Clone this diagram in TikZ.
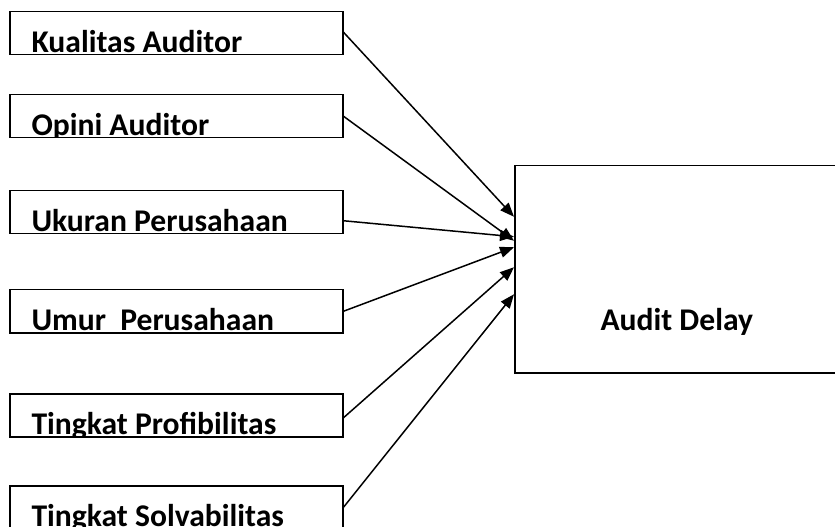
\documentclass[tikz,border=0pt]{standalone}
\usepackage{fontspec}
\setmainfont{Carlito}
\usetikzlibrary{arrows.meta}
\tikzset{
  box/.style={draw, line width=1.5bp, inner sep=0pt},
  boxtext/.style={draw=none, minimum width=0pt, minimum height=0pt,
    font=\fontsize{31.6bp}{37bp}\selectfont\bfseries, inner sep=0pt},
  varbox/.style={box, anchor=north west, minimum width=333bp, minimum height=43bp,
    path picture={\node[boxtext, anchor=base west] (t) at ([xshift=21bp,yshift=2.5bp]path picture bounding box.south west) {#1};}},
  link/.style={line width=1.5bp, -{Triangle[length=14bp,width=11bp]}}
}
\begin{document}
\begin{tikzpicture}[x=1bp, y=-1bp]
      \clip (0,0) rectangle (835,527);
      \node[varbox=Kualitas Auditor] (ka) at (9,11) {};
      \node[varbox=Opini Auditor] (oa) at (9,94) {};
      \node[varbox=Ukuran Perusahaan] (up) at (9,190) {};
      \node[varbox=Umur\ \ Perusahaan] (ump) at (9,289) {};
      \node[varbox=Tingkat Profibilitas] (tp) at (9,393) {};
      \node[varbox=Tingkat Solvabilitas] (ts) at (9,485) {};
      \node[box, anchor=north west, minimum width=324bp, minimum height=207bp] (ad) at (514,165) {};
      \node[boxtext, anchor=base] (adt) at ([yshift=-61.5bp]ad.center) {Audit Delay};
      \begin{scope}[link]
        \draw ([yshift=1bp]ka.east) to ([yshift=52.5bp]ad.west);
        \draw (oa.east) to ([yshift=28.5bp]ad.west);
        \draw ([yshift=-8.5bp]up.east) to ([yshift=32.5bp]ad.west);
        \draw (ump.east) to ([yshift=22bp]ad.west);
        \draw ([yshift=-2.5bp]tp.east) to ([yshift=2bp]ad.west);
        \draw (ts.east) to ([yshift=-25bp]ad.west);
      \end{scope}
    \end{tikzpicture}
\end{document}
